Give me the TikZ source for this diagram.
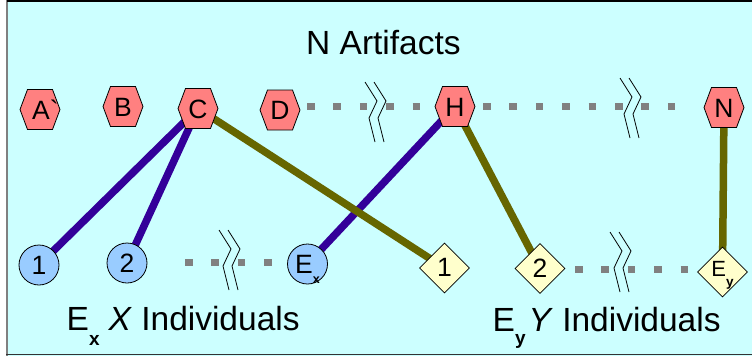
\documentclass[tikz,border=0pt]{standalone}
\usepackage{fontspec}
\setmainfont{Liberation Sans}
\usetikzlibrary{shapes.geometric,backgrounds}
\definecolor{bgc}{HTML}{CCFFFF}
\definecolor{hexfill}{HTML}{FF8080}
\definecolor{circfill}{HTML}{99CCFF}
\definecolor{diafill}{HTML}{FFFFCC}
\definecolor{bluec}{HTML}{330099}
\definecolor{olivec}{HTML}{666600}
\definecolor{dotc}{HTML}{808080}
\tikzset{
  lbl/.style={font=\fontsize{26.5}{26.5}\selectfont, text height=19pt, text depth=0pt, inner sep=0pt},
  hexshape/.pic={\draw[fill=hexfill, line width=0.8pt] (-20,0) -- (-12.5,-20) -- (12.5,-20) -- (20,0) -- (12.5,20) -- (-12.5,20) -- cycle;},
  circnode/.style={lbl, circle, draw=black, line width=0.8pt, fill=circfill, minimum size=40pt},
  dianode/.style={lbl, diamond, aspect=1, draw=black, line width=0.8pt, fill=diafill, minimum width=50pt, minimum height=50pt},
  blueline/.style={line width=7.5pt, draw=bluec},
  oliveline/.style={line width=7.5pt, draw=olivec},
  dots/.style={line width=7pt, draw=dotc, dash pattern=on 7.5pt off 18.9pt},
  brk/.pic={\draw[line width=0.8pt] (0,0) -- (12,19) -- (4,36) -- (10,60);
            \draw[line width=0.8pt] (9,0) -- (21,19) -- (13,36) -- (19,60);},
  bigtxt/.style={font=\fontsize{33.5}{38}\selectfont, inner sep=0pt, anchor=base west}
}
\begin{document}
\begin{tikzpicture}[x=1pt,y=-1pt]
\useasboundingbox (0,0) rectangle (752,356);
% hexagons (artifacts)
\foreach \x/\y in {40/109.5,123/106.5,198/108.5,280/110,455/106.5,724/107.5}
  \pic at (\x,\y) {hexshape};
\node[lbl] (A) at (41,109.5) {A\rlap{\textasciigrave}};
\node[lbl] (B) at (123,106.5) {B};
\node[lbl] (C) at (198,108.5) {C};
\node[lbl] (D) at (280,110) {D};
\node[lbl] (H) at (455,106.5) {H};
\node[lbl] (N) at (724,107.5) {N};
% individuals X
\node[circnode] (c1) at (39,265) {1};
\node[circnode] (c2) at (127,263) {2};
\node[circnode] (cx) at (307.5,264) {E\raisebox{-10pt}{\fontsize{12.5}{12.5}\selectfont\bfseries x}};
% individuals Y
\node[dianode] (d1) at (444.5,268) {\raisebox{1.5pt}{1}};
\node[dianode] (d2) at (540,268.5) {\raisebox{1pt}{2}};
\node[dianode] (dy) at (722.5,272) {\raisebox{5pt}{\fontsize{22}{22}\selectfont E\raisebox{-10pt}{\fontsize{13.5}{13.5}\selectfont\bfseries y}}};
% dotted continuation coordinates
\coordinate (t1s) at (307,106);  \coordinate (t1e) at (421,106);
\coordinate (t2s) at (483,106);  \coordinate (t2e) at (676,106);
\coordinate (b1s) at (185,262);  \coordinate (b1e) at (272,262);
\coordinate (b2s) at (575,269);  \coordinate (b2e) at (688,269);
% break marks
\pic at (365,82) {brk};
\pic at (620,78) {brk};
\pic at (219,230) {brk};
\pic at (610,232) {brk};
% texts
\node[bigtxt] (title) at (306,54) {N Artifacts};
\node[bigtxt] (xlab) at (66.5,330) {E\raisebox{-15pt}{\fontsize{19}{19}\selectfont\bfseries x}\hspace{9pt}\textit{X} Individuals};
\node[bigtxt] (ylab) at (492.5,331.5) {E\raisebox{-13pt}{\fontsize{19}{19}\selectfont\bfseries y}\hspace{3pt}\textit{Y} Individuals};
\begin{scope}[on background layer]
  \fill[white] (0,0) rectangle (752,356);
  \fill[bgc] (7.5,0) rectangle (752,356);
  \draw[dotc, line width=2pt] (6.5,0) -- (6.5,356);
  \draw[black, line width=1.5pt] (7,0.75) -- (752,0.75);
  \draw[black!80, line width=1.5pt] (6,354.5) -- (752,354.5);
  \draw[dots] (t1s) -- (t1e);
  \draw[dots] (t2s) -- (t2e);
  \draw[dots] (b1s) -- (b1e);
  \draw[dots] (b2s) -- (b2e);
  \draw[blueline] (C.center) -- (c1.center);
  \draw[blueline] (C.center) -- (c2.center);
  \draw[blueline] (H.center) -- (cx.center);
  \draw[oliveline] (C.center) -- (d1.center);
  \draw[oliveline] (H.center) -- (d2.center);
  \draw[oliveline] (N.center) -- (dy.center);
\end{scope}
\end{tikzpicture}
\end{document}
